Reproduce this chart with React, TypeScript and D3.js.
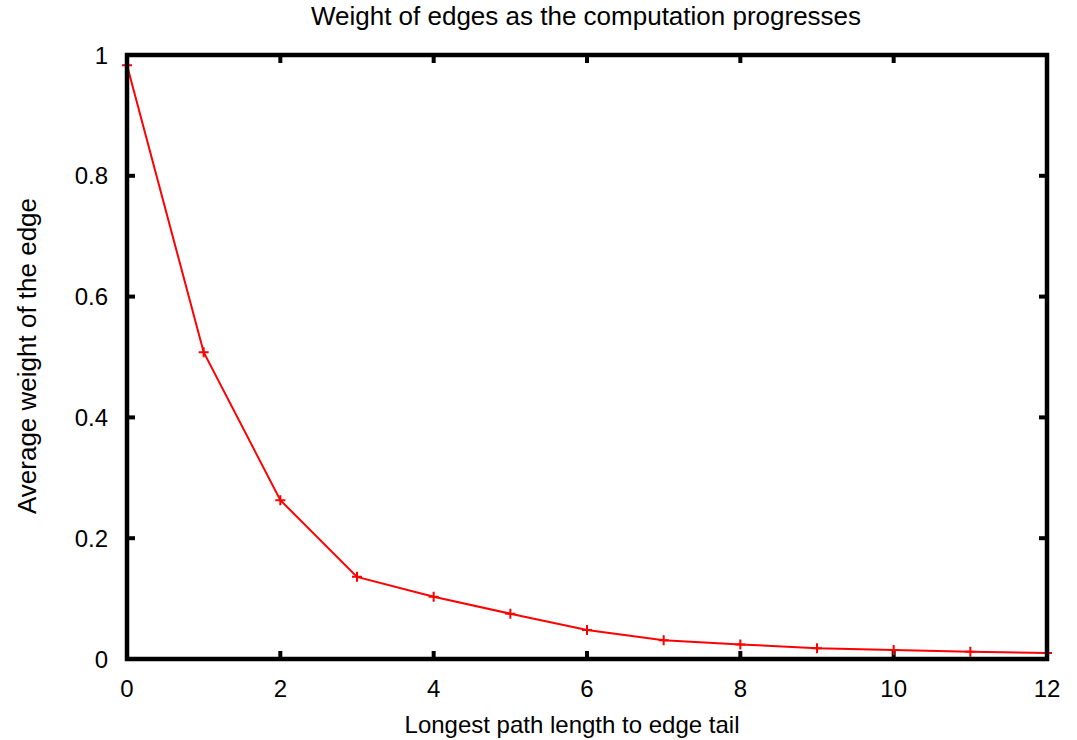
import React, { useEffect, useRef } from "react";
import * as d3 from "d3";

const pathLength = [0, 1, 2, 3, 4, 5, 6, 7, 8, 9, 10, 11, 12];
const avgWeight = [0.983, 0.508, 0.263, 0.136, 0.103, 0.075, 0.048, 0.031, 0.024, 0.018, 0.015, 0.012, 0.01];
const xTicks = [0, 2, 4, 6, 8, 10, 12];
const yTicks = [0, 0.2, 0.4, 0.6, 0.8, 1];

const App = () => {
  const ref = useRef<SVGSVGElement>(null);

  const W = 1077;
  const H = 740;
  const margin = { top: 55, right: 30, bottom: 81, left: 127 };
  const width = W - margin.left - margin.right;
  const height = H - margin.top - margin.bottom;

  useEffect(() => {
    const root = d3.select(ref.current);
    root.selectAll("*").remove();
    const font = "'Liberation Sans', Arial, sans-serif";

    const x = d3.scaleLinear().domain([0, 12]).range([0, width]);
    const y = d3.scaleLinear().domain([0, 1]).range([height, 0]);

    const g = root.append("g").attr("transform", `translate(${margin.left},${margin.top})`);

    // ticks, mirrored and pointing inward
    const tl = 8;
    xTicks.forEach((t) => {
      g.append("line").attr("x1", x(t)).attr("x2", x(t)).attr("y1", height).attr("y2", height - tl)
        .attr("stroke", "#000").attr("stroke-width", 4);
      g.append("line").attr("x1", x(t)).attr("x2", x(t)).attr("y1", 0).attr("y2", tl)
        .attr("stroke", "#000").attr("stroke-width", 4);
      g.append("text").attr("x", x(t)).attr("y", height + 38).attr("text-anchor", "middle")
        .attr("font-family", font).attr("font-size", 24).text(t);
    });
    yTicks.forEach((t) => {
      g.append("line").attr("x1", 0).attr("x2", tl).attr("y1", y(t)).attr("y2", y(t))
        .attr("stroke", "#000").attr("stroke-width", 4);
      g.append("line").attr("x1", width).attr("x2", width - tl).attr("y1", y(t)).attr("y2", y(t))
        .attr("stroke", "#000").attr("stroke-width", 4);
      g.append("text").attr("x", -19).attr("y", y(t)).attr("dy", "0.36em").attr("text-anchor", "end")
        .attr("font-family", font).attr("font-size", 24).text(t);
    });

    const pts = pathLength.map((d, i) => [d, avgWeight[i]] as [number, number]);
    const line = d3.line<[number, number]>().x((d) => x(d[0])).y((d) => y(d[1]));

    g.append("path").attr("d", line(pts)).attr("fill", "none").attr("stroke", "#ff0000").attr("stroke-width", 2);

    const m = 5;
    g.selectAll(".mk").data(pts).enter().append("path")
      .attr("d", (d) => `M${x(d[0]) - m},${y(d[1])}H${x(d[0]) + m}M${x(d[0])},${y(d[1]) - m}V${y(d[1]) + m}`)
      .attr("stroke", "#ff0000").attr("stroke-width", 2).attr("fill", "none");

    // frame
    g.append("rect").attr("x", 0).attr("y", 0).attr("width", width).attr("height", height)
      .attr("fill", "none").attr("stroke", "#000").attr("stroke-width", 4.5);

    root.append("text").attr("x", 586).attr("y", 25).attr("text-anchor", "middle")
      .attr("font-family", font).attr("font-size", 26)
      .text("Weight of edges as the computation progresses");
    root.append("text").attr("x", 572).attr("y", 733).attr("text-anchor", "middle")
      .attr("font-family", font).attr("font-size", 24)
      .text("Longest path length to edge tail");
    root.append("text").attr("transform", `translate(36,356) rotate(-90)`)
      .attr("text-anchor", "middle").attr("font-family", font).attr("font-size", 26)
      .text("Average weight of the edge");
  }, []);

  return (
    <svg ref={ref} width={W} height={H} style={{ position: "absolute", left: 0, top: 0, background: "#fff" }} />
  );
};

export default App;
